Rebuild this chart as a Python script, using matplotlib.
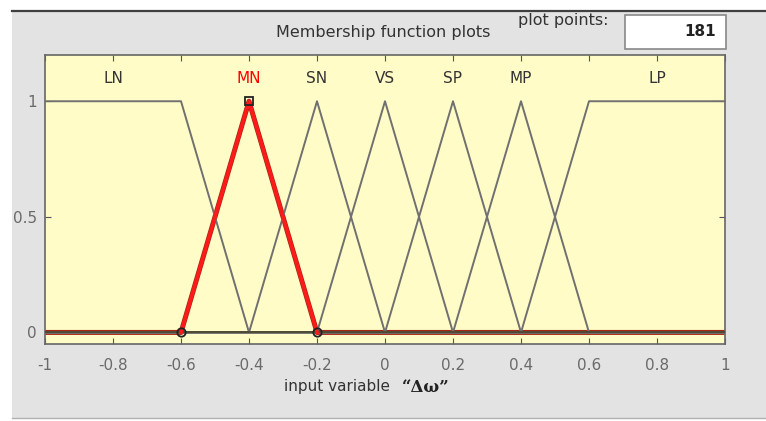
"""Membership function plot for the input variable delta-omega."""
import matplotlib.pyplot as plt
import numpy as np
from matplotlib.patches import Rectangle

# membership functions: name, breakpoints (x), values (y)
mf_names = ["LN", "MN", "SN", "VS", "SP", "MP", "LP"]
mf_x = [
    [-1.0, -0.6, -0.4, 1.0],
    [-1.0, -0.6, -0.4, -0.2, 1.0],
    [-1.0, -0.4, -0.2, 0.0, 1.0],
    [-1.0, -0.2, 0.0, 0.2, 1.0],
    [-1.0, 0.0, 0.2, 0.4, 1.0],
    [-1.0, 0.2, 0.4, 0.6, 1.0],
    [-1.0, 0.4, 0.6, 1.0],
]
mf_y = [
    [1, 1, 0, 0],
    [0, 0, 1, 0, 0],
    [0, 0, 1, 0, 0],
    [0, 0, 1, 0, 0],
    [0, 0, 1, 0, 0],
    [0, 0, 1, 0, 0],
    [0, 0, 1, 1],
]
label_x = [-0.8, -0.4, -0.2, 0.0, 0.2, 0.4, 0.8]
selected = "MN"
sel_x = [-0.6, -0.4, -0.2]
sel_y = [0, 1, 0]

x_ticks = np.round(np.arange(-1, 1.01, 0.2), 1)
x_ticklabels = ["-1", "-0.8", "-0.6", "-0.4", "-0.2", "0", "0.2", "0.4", "0.6", "0.8", "1"]
y_ticks = [0, 0.5, 1]
y_ticklabels = ["0", "0.5", "1"]

panel = "#e3e3e3"
txt = "#333333"
font = "DejaVu Sans"

fig = plt.figure(figsize=(7.66, 4.21), dpi=100)
fig.patch.set_facecolor("white")

# gray frame panel behind the axes
fig.add_artist(Rectangle((12 / 766, 1 - 418 / 421), 754 / 766, 407 / 421,
                         transform=fig.transFigure, facecolor=panel,
                         edgecolor="none", zorder=-2))
fig.add_artist(plt.Line2D([12 / 766, 1], [1 - 11 / 421] * 2,
                          transform=fig.transFigure, color="#404040", lw=1.6))
fig.add_artist(plt.Line2D([12 / 766, 1], [1 - 418 / 421] * 2,
                          transform=fig.transFigure, color="#b0b0b0", lw=1))

ax = fig.add_axes([45 / 766, 1 - 344 / 421, 680 / 766, 289 / 421])
ax.set_facecolor("#fffcc8")

# selected function in red underneath, the rest in gray on top
for name, xs, ys in zip(mf_names, mf_x, mf_y):
    if name == selected:
        ax.plot(xs, ys, color="#a82515", lw=3.6, zorder=2)
for name, xs, ys in zip(mf_names, mf_x, mf_y):
    if name != selected:
        ax.plot(xs, ys, color="#707070", lw=1.4, zorder=3)
ax.plot(sel_x, sel_y, color="#ff1a1a", lw=2.6, zorder=4)
ax.axhline(0, color="#4f4a35", lw=1.4, zorder=3.5)
ax.plot(sel_x[0::2], sel_y[0::2], "o", ms=6, mfc="none", mec="#222222",
        mew=1.3, zorder=5)
ax.plot(sel_x[1], sel_y[1], "s", ms=6, mfc="none", mec="#222222",
        mew=1.3, zorder=5)

for name, lx in zip(mf_names, label_x):
    ax.text(lx, 1.1, name, ha="center", va="center", fontsize=11,
            color="red" if name == selected else "#333333", family=font)

ax.set_xlim(-1, 1)
ax.set_ylim(-0.05, 1.2)
ax.set_xticks(x_ticks)
ax.set_xticklabels(x_ticklabels)
ax.set_yticks(y_ticks)
ax.set_yticklabels(y_ticklabels)
ax.tick_params(direction="in", length=4, color="#555555", labelcolor="#6a6a6a",
               labelsize=11, top=True, right=True, pad=10)
ax.tick_params(axis="y", pad=6)
for lab in ax.get_xticklabels() + ax.get_yticklabels():
    lab.set_family(font)
for s in ax.spines.values():
    s.set_color("#666666")
    s.set_linewidth(1.2)

fig.text(383 / 766, 1 - 32 / 421, "Membership function plots", ha="center",
         va="center", fontsize=11.5, color=txt, family=font)
fig.text(563 / 766, 1 - 21 / 421, "plot points:", ha="center", va="center",
         fontsize=11.5, color=txt, family=font)
fig.add_artist(Rectangle((625 / 766, 1 - 49 / 421), 101 / 766, 34 / 421,
                         transform=fig.transFigure, facecolor="white",
                         edgecolor="#888888", lw=1.2))
fig.text(716 / 766, 1 - 32 / 421, "181", ha="right", va="center",
         fontsize=11, color="#222222", family=font, fontweight="bold")

fig.text(337 / 766, 1 - 386 / 421, "input variable", ha="center",
         va="center", fontsize=11, color=txt, family=font)
fig.text(426 / 766, 1 - 387 / 421, "\u201c\u0394\u03c9\u201d", ha="center",
         va="center", fontsize=12, color="#222222", family="DejaVu Serif",
         fontweight="bold")

fig.savefig("out.png", dpi=100, facecolor=fig.get_facecolor())
